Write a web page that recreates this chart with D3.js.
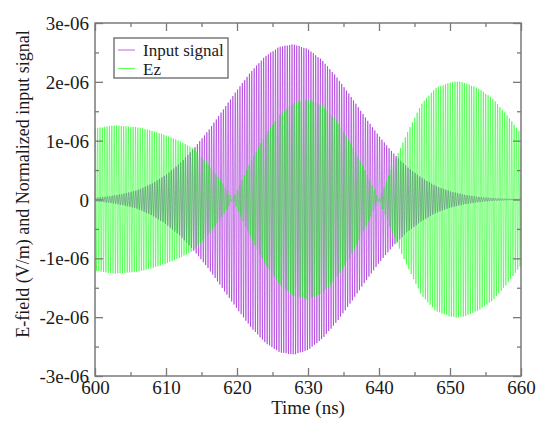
<!DOCTYPE html>
<html>
<head>
<meta charset="utf-8">
<script src="https://cdn.jsdelivr.net/npm/d3@7"></script>
<style>
  html, body { margin: 0; padding: 0; background: #fff; }
  svg { display: block; }
  text { font-family: "Liberation Serif", "DejaVu Serif", serif; fill: #1a1a1a; }
</style>
</head>
<body>
<svg id="chart" width="547" height="421"></svg>
<script>
// ---- data (amplitudes in units of 1e-6) ----
const xTicks = [600, 610, 620, 630, 640, 650, 660];
const yTicks = [-3e-6, -2e-6, -1e-6, 0, 1e-6, 2e-6, 3e-6];
const yTickLabels = ["-3e-06", "-2e-06", "-1e-06", "0", "1e-06", "2e-06", "3e-06"];
const seriesNames = ["Input signal", "Ez"];
const seriesColors = ["#9400d3", "#00ff00"];

// envelope of the input signal (ns, 1e-6)
const inputTimes = [600,602,604,606,608,610,612,614,616,618,620,622,624,626,628,630,632,634,636,638,640,642,644,646,648,650,652,654,656,658,660];
const inputEnv   = [0.029,0.055,0.098,0.16,0.27,0.42,0.62,0.88,1.18,1.52,1.86,2.18,2.44,2.60,2.64,2.56,2.37,2.09,1.76,1.41,1.08,0.79,0.55,0.37,0.23,0.14,0.082,0.045,0.024,0.012,0.006];

// envelope of Ez (ns, 1e-6)
const ezTimes = [600,602,603,604,606,608,610,612,614,616,618,619.4,620,622,624,626,628,630,632,634,636,638,640,641,642,644,646,648,650,651,652,654,656,658,660];
const ezEnv   = [1.21,1.25,1.26,1.25,1.23,1.17,1.09,0.99,0.86,0.60,0.28,0.0,0.155,0.66,1.10,1.44,1.64,1.70,1.60,1.35,0.97,0.51,0.0,0.30,0.60,1.14,1.63,1.90,1.99,2.01,1.99,1.89,1.72,1.44,1.12];

// carrier frequency of both signals (GHz) and sampling step (ns)
const carrierGHz = 3;
const sampleStep = 0.01;

// ---- layout ----
const svg = d3.select("#chart");
const L = 95, R = 521, T = 23, B = 376;
const x = d3.scaleLinear().domain([600, 660]).range([L, R]);
const y = d3.scaleLinear().domain([-3e-6, 3e-6]).range([B, T]);

function buildSeries(times, env, phase) {
  const envScale = d3.scaleLinear().domain(times).range(env);
  const pts = [];
  const n = Math.round((660 - 600) / sampleStep);
  for (let i = 0; i <= n; i++) {
    const t = 600 + i * sampleStep;
    pts.push([t, envScale(t) * 1e-6 * Math.sin(2 * Math.PI * carrierGHz * t + phase)]);
  }
  return pts;
}

const series = [buildSeries(inputTimes, inputEnv, 0), buildSeries(ezTimes, ezEnv, 0.9)];

svg.append("clipPath").attr("id", "clip")
  .append("rect").attr("x", L).attr("y", T).attr("width", R - L).attr("height", B - T);

const line = d3.line().x(d => x(d[0])).y(d => y(d[1]));
const g = svg.append("g").attr("clip-path", "url(#clip)");
series.forEach((s, i) => {
  g.append("path").datum(s)
    .attr("d", line)
    .attr("fill", "none")
    .attr("stroke", seriesColors[i])
    .attr("stroke-width", 0.5);
});

// ---- axes (ticks inward on all sides) ----
const frameColor = "#7a7a7a";
const xMinor = d3.range(605, 660, 10);
const yMinor = d3.range(-2.5e-6, 3e-6, 1e-6);

const axB = d3.axisBottom(x).tickValues(xTicks).tickSizeInner(-8).tickSizeOuter(0).tickPadding(5);
const axBm = d3.axisBottom(x).tickValues(xMinor).tickSizeInner(-4).tickSizeOuter(0).tickFormat("");
const axT = d3.axisTop(x).tickValues(xTicks).tickSizeInner(-8).tickSizeOuter(0).tickFormat("");
const axTm = d3.axisTop(x).tickValues(xMinor).tickSizeInner(-4).tickSizeOuter(0).tickFormat("");
const axL = d3.axisLeft(y).tickValues(yTicks).tickSizeInner(-8).tickSizeOuter(0).tickPadding(6)
  .tickFormat((d, i) => yTickLabels[i]);
const axLm = d3.axisLeft(y).tickValues(yMinor).tickSizeInner(-4).tickSizeOuter(0).tickFormat("");
const axR = d3.axisRight(y).tickValues(yTicks).tickSizeInner(-8).tickSizeOuter(0).tickFormat("");
const axRm = d3.axisRight(y).tickValues(yMinor).tickSizeInner(-4).tickSizeOuter(0).tickFormat("");

function addAxis(ax, tr) {
  const a = svg.append("g").attr("transform", tr).call(ax);
  a.select(".domain").remove();
  a.selectAll(".tick line").attr("stroke", frameColor).attr("stroke-width", 1.3);
  a.selectAll(".tick text").style("font-family", '"Liberation Serif", serif')
    .style("font-size", "19px").attr("fill", "#1a1a1a");
  return a;
}
addAxis(axB, `translate(0,${B})`);
addAxis(axBm, `translate(0,${B})`);
addAxis(axT, `translate(0,${T})`);
addAxis(axTm, `translate(0,${T})`);
const leftAx = addAxis(axL, `translate(${L},0)`);
addAxis(axLm, `translate(${L},0)`);
addAxis(axR, `translate(${R},0)`);
addAxis(axRm, `translate(${R},0)`);
leftAx.selectAll(".tick text").attr("dy", "0.35em");

svg.append("rect").attr("x", L).attr("y", T).attr("width", R - L).attr("height", B - T)
  .attr("fill", "none").attr("stroke", frameColor).attr("stroke-width", 1.5);

// axis titles
svg.append("text").attr("x", (L + R) / 2).attr("y", 414).attr("text-anchor", "middle")
  .style("font-size", "19px").text("Time (ns)");
svg.append("text").attr("transform", "translate(29,184) rotate(-90)").attr("text-anchor", "middle")
  .style("font-size", "18px").text("E-field (V/m) and Normalized input signal");

// legend
const leg = svg.append("g");
leg.append("rect").attr("x", 114).attr("y", 38).attr("width", 114).attr("height", 40)
  .attr("fill", "#fff").attr("stroke", frameColor).attr("stroke-width", 1.5);
seriesNames.forEach((name, i) => {
  const ly = 50 + i * 18.5;
  leg.append("line").attr("x1", 118).attr("x2", 135).attr("y1", ly).attr("y2", ly)
    .attr("stroke", seriesColors[i]).attr("stroke-width", 1).attr("opacity", 0.6);
  leg.append("text").attr("x", 143).attr("y", ly + 6).style("font-size", "17px").text(name);
});
</script>
</body>
</html>
